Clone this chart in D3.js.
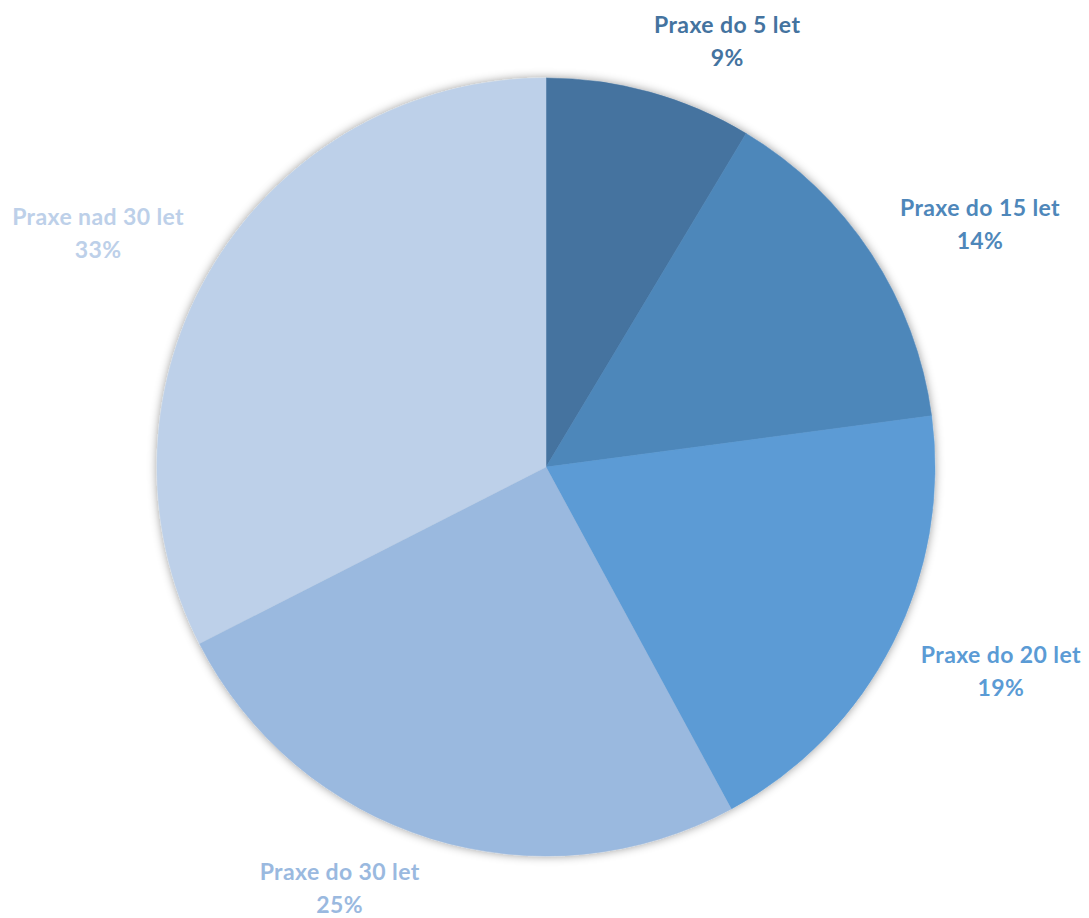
<!DOCTYPE html>
<html>
<head>
<meta charset="utf-8">
<script src="https://cdn.jsdelivr.net/npm/d3@7"></script>
<style>
  body { margin: 0; background: #fff; }
  svg text { font-family: Lato, "Open Sans", sans-serif; font-weight: 700; }
</style>
</head>
<body>
<svg id="pieChart"></svg>
<script>
// data
const categories = ["Praxe do 5 let", "Praxe do 15 let", "Praxe do 20 let", "Praxe do 30 let", "Praxe nad 30 let"];
const shares = [8.6, 14.3, 19.2, 25.4, 32.5];
const pctLabels = ["9%", "14%", "19%", "25%", "33%"];
const colors = ["#44739f", "#4e87ba", "#5b9bd5", "#9ab9df", "#bdd0e9"];

// layout
const W = 1089, H = 918;
const cx = 546, cy = 467, radius = 389;
const labelNudge = [[56, 26], [42, 14], [37, -9], [-67, -27], [-48, 11]];

const svg = d3.select("#pieChart").attr("width", W).attr("height", H);

const defs = svg.append("defs");
const shadow = defs.append("filter").attr("id", "shadow")
    .attr("x", "-10%").attr("y", "-10%").attr("width", "120%").attr("height", "120%");
shadow.append("feDropShadow")
    .attr("dx", 0).attr("dy", 0)
    .attr("stdDeviation", 5)
    .attr("flood-color", "#000")
    .attr("flood-opacity", 0.4);

const g = svg.append("g").attr("transform", `translate(${cx},${cy})`);

const pie = d3.pie().sort(null).value(d => d.v);
const arcs = pie(shares.map((v, i) => ({ v, i })));

const arc = d3.arc().innerRadius(0).outerRadius(radius);
const labelArc = d3.arc().innerRadius(radius + 80).outerRadius(radius + 80);

g.append("g").attr("filter", "url(#shadow)")
    .selectAll("path")
    .data(arcs)
    .join("path")
    .attr("d", arc)
    .attr("fill", d => colors[d.data.i])
    .attr("stroke", d => colors[d.data.i])
    .attr("stroke-width", 0.5);

const labels = g.selectAll("text.lbl")
    .data(arcs)
    .join("text")
    .attr("class", "lbl")
    .attr("text-anchor", "middle")
    .attr("font-size", 23)
    .attr("letter-spacing", 0.4)
    .attr("fill", d => colors[d.data.i])
    .attr("transform", d => {
        const c = labelArc.centroid(d);
        const n = labelNudge[d.data.i];
        return `translate(${c[0] + n[0]},${c[1] + n[1]})`;
    });

labels.append("tspan").attr("x", 0).attr("y", -8).text(d => categories[d.data.i]);
labels.append("tspan").attr("x", 0).attr("y", 25).text(d => pctLabels[d.data.i]);
</script>
</body>
</html>
